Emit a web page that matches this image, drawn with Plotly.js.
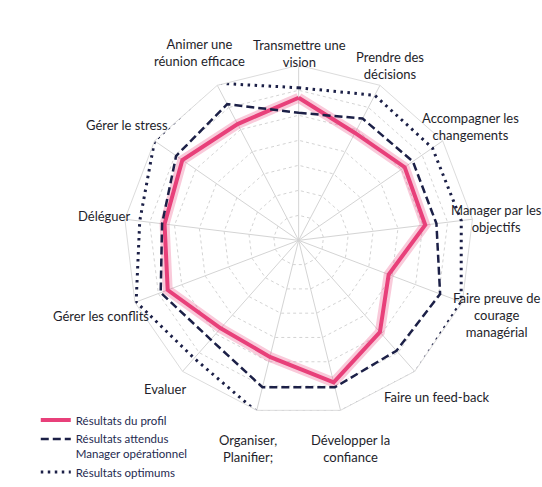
<!DOCTYPE html>
<html>
<head>
<meta charset="utf-8">
<script src="https://cdn.plot.ly/plotly-3.0.1.min.js"></script>
<style>html,body{margin:0;padding:0;background:#fff;}#chart{width:542px;height:487px;}</style>
</head>
<body>
<div id="chart"></div>
<script>
// ---- data ----
var categories = [
  "Transmettre une vision", "Prendre des décisions", "Accompagner les changements",
  "Manager par les objectifs", "Faire preuve de courage managérial", "Faire un feed-back",
  "Développer la confiance", "Organiser, Planifier;", "Evaluer", "Gérer les conflits",
  "Déléguer", "Gérer le stress", "Animer une réunion efficace"
];
var categoryLabels = [
  "Transmettre une<br>vision", "Prendre des<br>décisions", "Accompagner les<br>changements",
  "Manager par les<br>objectifs", "Faire preuve de<br>courage<br>managérial", "Faire un feed-back",
  "Développer la<br>confiance", "Organiser,<br>Planifier;", "Evaluer", "Gérer les conflits",
  "Déléguer", "Gérer le stress", "Animer une<br>réunion efficace"
];
var profil    = [5.7, 4.85, 5.15, 5.1, 3.85, 4.9, 5.85, 4.8, 4.7, 5.6, 5.4, 5.65, 5.25];
var attendus  = [5.1, 5.5, 5.55, 5.55, 6.05, 5.9, 6.05, 6.05, 5.3, 5.9, 5.5, 5.95, 6.15];
var optimums  = [6.1, 6.55, 6.5, 6.55, 6.95, 7.05, 7.05, 7.05, 6.3, 6.95, 6.4, 7.0, 7.1];
var seriesNames = ["Résultats du profil", "Résultats attendus<br>Manager opérationnel", "Résultats optimums"];

// ---- layout helpers (positions of category label text, in pixels) ----
var W = 542, H = 487;
var labelPos = [
  [299, 53.5], [390, 65], [470.5, 126.5], [496, 218.5], [497, 315], [436.5, 397],
  [350, 448], [248, 448], [164.5, 389], [101, 316], [103.5, 216], [127, 125], [199, 52.5]
];

function closed(a){ return a.concat([a[0]]); }
var th = closed(categories);

var navy = "#1c2047";
var pink = "#e8407a";

var traces = [
  {type:"scatterpolar", r: closed(profil), theta: th, mode:"lines",
   line:{color:"rgba(232,64,122,0.28)", width:10}, showlegend:false, hoverinfo:"skip"},
  {type:"scatterpolar", r: closed(profil), theta: th, mode:"lines", name: seriesNames[0],
   line:{color:pink, width:4}},
  {type:"scatterpolar", r: closed(attendus), theta: th, mode:"lines", name: seriesNames[1],
   line:{color:navy, width:2.5, dash:"8px,4px"}},
  {type:"scatterpolar", r: closed(optimums), theta: th, mode:"lines", name: seriesNames[2],
   line:{color:navy, width:3, dash:"2.5px,4.5px"}}
];

var annotations = categoryLabels.map(function(t, i){
  return {text:t, xref:"paper", yref:"paper", x: labelPos[i][0]/W, y: 1 - labelPos[i][1]/H,
          xanchor:"center", yanchor:"middle", showarrow:false, align:"center",
          font:{family:"Lato, 'Open Sans', sans-serif", size:13, color:"#1e1e2a"}};
});

var layout = {
  width: W, height: H,
  margin:{l:0,r:0,t:0,b:0},
  paper_bgcolor:"#fff",
  showlegend:true,
  legend:{x:0.066, y:0.166, xanchor:"left", yanchor:"top", bgcolor:"rgba(0,0,0,0)",
          font:{family:"Lato, 'Open Sans', sans-serif", size:11.5, color:"#1e2a50"},
          valign:"top", tracegroupgap:0},
  polar:{
    domain:{x:[0.228,0.874], y:[0.147,0.866]},
    bgcolor:"#fff",
    gridshape:"linear",
    radialaxis:{range:[0,7], dtick:1, showticklabels:false, ticks:"", showline:false,
                gridcolor:"#d4d4d4", griddash:"dot", gridwidth:1},
    angularaxis:{direction:"clockwise", rotation:90, showticklabels:false, ticks:"",
                 showline:true, linecolor:"#dcdcdc", linewidth:1,
                 gridcolor:"#d4d4d4", gridwidth:1}
  },
  annotations: annotations
};

Plotly.newPlot("chart", traces, layout, {displayModeBar:false, staticPlot:true});
</script>
</body>
</html>
